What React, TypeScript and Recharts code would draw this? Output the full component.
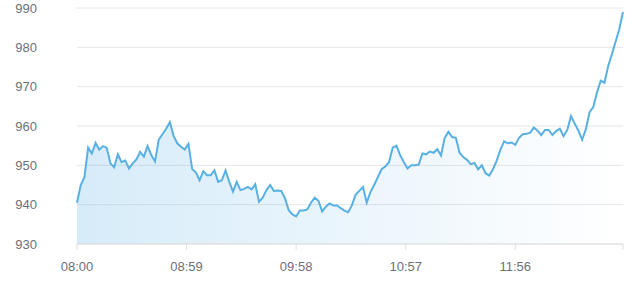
import React from 'react';
import { AreaChart, Area, XAxis, YAxis, CartesianGrid } from 'recharts';

// one reading every 2 minutes from 08:00
const prices: number[] = [
  940.5, 945, 947, 954.5, 953, 955.7, 954, 954.9, 954.5, 950.5,
  949.5, 952.8, 950.8, 951.2, 949.2, 950.5, 951.5, 953.4, 952.2, 954.9,
  952.6, 951, 956.5, 957.9, 959.3, 961, 957.5, 955.6, 954.7, 954,
  955.5, 949.1, 948.2, 946.2, 948.5, 947.5, 947.5, 948.7, 945.8, 946.2,
  948.7, 945.8, 943.3, 945.8, 943.7, 944, 944.5, 943.9, 945.2, 940.7,
  941.8, 943.7, 945, 943.5, 943.6, 943.5, 941.6, 938.6, 937.5, 937,
  938.5, 938.5, 938.8, 940.5, 941.8, 941, 938.3, 939.5, 940.3, 939.8,
  939.8, 939.1, 938.5, 938.1, 939.8, 942.5, 943.5, 944.5, 940.5, 943.2,
  945, 947, 949, 949.7, 950.8, 954.5, 955, 952.6, 950.8, 949.2,
  950, 950, 950.2, 953, 952.8, 953.5, 953.2, 954.1, 952.5, 957,
  958.5, 957.2, 957, 953.2, 952.1, 951.4, 950.3, 950.6, 949, 950,
  948, 947.4, 949, 951.2, 954, 956.1, 955.6, 955.8, 955.2, 957,
  957.9, 958, 958.3, 959.6, 958.8, 957.7, 959, 959, 957.7, 958.7,
  959.3, 957.4, 959, 962.5, 960.6, 958.8, 956.5, 959.2, 963.5, 964.8,
  968.5, 971.5, 971, 975.2, 978.2, 981.4, 984.6, 989,
];
const stepMinutes = 2;

const tickMinutes = [0, 59, 118, 177, 236, 294];
const tickLabels = ['08:00', '08:59', '09:58', '10:57', '11:56', ''];
const yTicks = [930, 940, 950, 960, 970, 980, 990];

const data = prices.map((price, i) => ({ minute: i * stepMinutes, price }));

const App: React.FC = () => {
  return (
    <div style={{ position: 'absolute', left: 0, top: 0, width: 640, height: 284, background: '#fff' }}>
      <AreaChart
        width={640}
        height={284}
        data={data}
        margin={{ top: 8, right: 17, left: 0, bottom: 0 }}
      >
        <defs>
          <linearGradient id="fade" x1="0" y1="0" x2="1" y2="0">
            <stop offset="0%" stopColor="#55aee6" stopOpacity={0.24} />
            <stop offset="100%" stopColor="#55aee6" stopOpacity={0} />
          </linearGradient>
        </defs>
        <CartesianGrid vertical={false} stroke="#e6e6e6" />
        <XAxis
          dataKey="minute"
          type="number"
          domain={[0, 294]}
          ticks={tickMinutes}
          tickFormatter={(v) => tickLabels[tickMinutes.indexOf(v)] ?? ''}
          height={40}
          stroke="#e0e0e0"
          tickSize={6}
          tickMargin={12}
          tick={{ fill: '#6e7079', fontSize: 13, fontFamily: 'Liberation Sans, Arial, sans-serif' }}
        />
        <YAxis
          domain={[930, 990]}
          ticks={yTicks}
          width={77}
          axisLine={false}
          tickLine={false}
          tickSize={0}
          tickMargin={40}
          tick={{ fill: '#6e7079', fontSize: 13, fontFamily: 'Liberation Sans, Arial, sans-serif' }}
        />
        <Area
          type="linear"
          dataKey="price"
          stroke="#58b0e3"
          strokeWidth={2}
          fill="url(#fade)"
          fillOpacity={1}
          dot={false}
          activeDot={false}
          isAnimationActive={false}
        />
      </AreaChart>
    </div>
  );
};

export default App;
